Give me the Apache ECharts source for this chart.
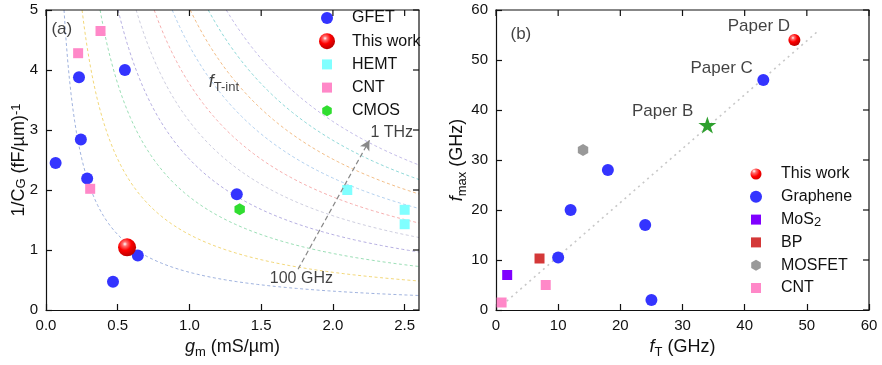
<!DOCTYPE html>
<html><head><meta charset="utf-8">
<script src="https://cdn.jsdelivr.net/npm/echarts@6/dist/echarts.min.js"></script>
<style>html,body{margin:0;padding:0;background:#fff}#wrap{position:relative;width:882px;height:365px}#c{width:882px;height:365px}</style>
</head><body><div id="wrap"><div id="c"></div></div>
<script>
const FONT = "'Liberation Sans', Arial, Helvetica, sans-serif";

// ---------- Panel (a): 1/CG vs gm ----------
const gfet = [[0.067,2.45],[0.23,3.88],[0.243,2.84],[0.287,2.19],[0.55,4.0],[0.467,0.47],[0.64,0.91],[1.33,1.93]];
const thisWorkA = [[0.565,1.045]];
const hemt = [[2.10,2.0],[2.5,1.67],[2.5,1.43]];
const cntA = [[0.224,4.28],[0.38,4.65],[0.308,2.02]];
const cmos = [[1.35,1.68]];
const ftIntGHz = [100,200,300,400,500,600,700,800,900,1000];
const curveColors = ['#8ea4d8','#f0d060','#88d8a8','#a8a0dc','#c4c4d8','#f4a0a0','#a4c8ec','#f0b070','#78d0d0','#b8b0e4'];
const xTicksA = [0,0.5,1.0,1.5,2.0,2.5];
const yTicksA = [0,1,2,3,4,5];

// ---------- Panel (b): fmax vs fT ----------
const thisWorkB = [[48,54]];
const graphene = [[43,46],[18,28],[12,20],[24,17],[10,10.5],[25,2]];
const mos2 = [[1.8,7]];
const bp = [[7,10.3]];
const mosfet = [[14,32]];
const cntB = [[8,5],[0.9,1.5]];
const paperB = [[34,37]];
const trend = [[1,1],[52,56]];
const xTicksB = [0,10,20,30,40,50,60];
const yTicksB = [0,10,20,30,40,50,60];

const hexPath = 'path://M0,-1L0.866,-0.5L0.866,0.5L0,1L-0.866,0.5L-0.866,-0.5Z';
const starPath = 'path://M0,-1L0.2245,-0.309L0.951,-0.309L0.363,0.118L0.588,0.809L0,0.382L-0.588,0.809L-0.363,0.118L-0.951,-0.309L-0.2245,-0.309Z';
const icCircle12 = 'path://M-1.333,-1.333M1.333,1.333M1,0A1,1,0,1,1,-1,0A1,1,0,1,1,1,0Z';
const icCircle11 = 'path://M-1.455,-1.455M1.455,1.455M1,0A1,1,0,1,1,-1,0A1,1,0,1,1,1,0Z';
const icSquare10 = 'path://M-1.6,-1.6M1.6,1.6M-1,-1L1,-1L1,1L-1,1Z';
const icHex11 = 'path://M-1.45,-1.45M1.45,1.45M0,-1L0.866,-0.5L0.866,0.5L0,1L-0.866,0.5L-0.866,-0.5Z';
const sphere = {type:'radial',x:0.38,y:0.32,r:0.7,colorStops:[{offset:0,color:'#ffffff'},{offset:0.18,color:'#ff7070'},{offset:0.5,color:'#ff0000'},{offset:1,color:'#b80000'}]};

// iso-f_T curves: 1/CG = 2*pi*fT/gm (fT in THz, gm in mS/um)
function isoCurve(fGHz){
  const k = 2*Math.PI*fGHz/1000;
  const pts = [];
  const g0 = k/5;
  for(let i=0;i<=200;i++){
    const g = g0 + (2.6-g0)*i/200;
    pts.push([g, k/g]);
  }
  return pts;
}

const rich = {
  i:{fontStyle:'italic',fontSize:18,lineHeight:24,fontFamily:FONT,color:'#111'},
  sub:{fontSize:13,lineHeight:12,verticalAlign:'bottom',fontFamily:FONT,color:'#111'},
  sup:{fontSize:13,lineHeight:12,verticalAlign:'top',fontFamily:FONT,color:'#111'},
  n:{fontSize:18,lineHeight:24,fontFamily:FONT,color:'#111'}
};
const richY = {
  i:{fontStyle:'italic',fontSize:18,lineHeight:18,fontFamily:FONT,color:'#111'},
  sub:{fontSize:13,lineHeight:10,verticalAlign:'bottom',fontFamily:FONT,color:'#111'},
  sup:{fontSize:13,lineHeight:10,verticalAlign:'top',fontFamily:FONT,color:'#111'},
  n:{fontSize:18,lineHeight:18,fontFamily:FONT,color:'#111'}
};

function mkAxis(base){
  return Object.assign({
    show:true,
    axisLine:{show:true,onZero:false,lineStyle:{color:'#111',width:1.2}},
    axisTick:{show:true,inside:true,length:6,lineStyle:{color:'#111',width:1.2}},
    splitLine:{show:false},
    nameMoveOverlap:false,
    axisLabel:{fontFamily:FONT,fontSize:15,color:'#111',margin:8},
  }, base);
}

const xAxes = [
  mkAxis({type:'value',gridIndex:0,min:0,max:2.6,interval:0.5,position:'bottom',
    axisLabel:{fontFamily:FONT,fontSize:15,color:'#111',margin:8,showMaxLabel:false,formatter:v=>Math.abs(v-2.6)<1e-6?'':v.toFixed(1)},
    name:'{i|g}{sub|m}{n| (mS/µm)}',nameLocation:'middle',nameGap:25,nameTextStyle:{rich:rich,fontSize:18,lineHeight:24}}),
  mkAxis({type:'value',gridIndex:1,min:0,max:60,interval:10,position:'bottom',
    name:'{i|f}{sub|T}{n| (GHz)}',nameLocation:'middle',nameGap:25,nameTextStyle:{rich:rich,fontSize:18,lineHeight:24}})
];
const yAxes = [
  mkAxis({type:'value',gridIndex:0,min:0,max:5,interval:1,position:'left',
    name:'{n|1/C}{sub|G}{n| (fF/µm)}{sup|-1}',nameLocation:'middle',nameGap:18,nameRotate:90,nameTextStyle:{rich:richY,fontSize:18,lineHeight:18}}),
  mkAxis({type:'value',gridIndex:1,min:0,max:60,interval:10,position:'left',
    name:'{i|f}{sub|max}{n| (GHz)}',nameLocation:'middle',nameGap:27,nameRotate:90,nameTextStyle:{rich:rich,fontSize:18,lineHeight:24}})
];

const series = [];
ftIntGHz.forEach((f,i)=>{
  series.push({type:'line',name:'ft'+f,xAxisIndex:0,yAxisIndex:0,data:isoCurve(f),showSymbol:false,symbol:'none',
    silent:true,clip:true,z:1,lineStyle:{color:curveColors[i],width:1,type:[3,2.5],opacity:0.85}});
});
series.push({type:'line',name:'arrow',xAxisIndex:0,yAxisIndex:0,data:[],silent:true,
  markLine:{silent:true,animation:false,symbol:['none','arrow'],symbolSize:[8,10],label:{show:false},
    lineStyle:{color:'#888',type:[5,3],width:1.2},
    data:[[{coord:[1.757,0.68]},{coord:[2.255,2.83]}]]}});
series.push({type:'scatter',name:'GFET',xAxisIndex:0,yAxisIndex:0,data:gfet,symbol:'circle',symbolSize:12,itemStyle:{color:'#3434ff',opacity:1},z:3});
series.push({type:'scatter',name:'HEMT',xAxisIndex:0,yAxisIndex:0,data:hemt,symbol:'rect',symbolSize:10,itemStyle:{color:'#80ffff',opacity:1},z:3});
series.push({type:'scatter',name:'CNT',xAxisIndex:0,yAxisIndex:0,data:cntA,symbol:'rect',symbolSize:10,itemStyle:{color:'#ff88c8',opacity:1},z:3});
series.push({type:'scatter',name:'CMOS',xAxisIndex:0,yAxisIndex:0,data:cmos,symbol:hexPath,symbolKeepAspect:true,symbolSize:12,itemStyle:{color:'#30dd30',opacity:1},z:3});
series.push({type:'scatter',name:'This work',xAxisIndex:0,yAxisIndex:0,data:thisWorkA,symbol:'circle',symbolSize:18,itemStyle:{color:sphere,opacity:1},z:4});
series.push({type:'scatter',name:'annA',xAxisIndex:0,yAxisIndex:0,symbolSize:0,silent:true,z:5,
  label:{show:true,position:'inside',fontFamily:FONT,fontSize:16,color:'#111',formatter:'{b}',rich:rich},
  data:[
    {value:[0.11,4.67],name:'(a)',label:{fontSize:17}},
    {value:[1.24,3.8],name:'fT',label:{formatter:'{i|f}{sub|T-int}'}},
    {value:[1.78,0.53],name:'100 GHz'},
    {value:[2.41,2.95],name:'1 THz'}
  ]});

series.push({type:'line',name:'trend',xAxisIndex:1,yAxisIndex:1,data:trend,symbol:'none',silent:true,z:1,
  lineStyle:{color:'#c8c8c8',width:1.6,type:[2,4]}});
series.push({type:'scatter',name:'Graphene',xAxisIndex:1,yAxisIndex:1,data:graphene,symbol:'circle',symbolSize:12,itemStyle:{color:'#3434ff',opacity:1},z:3});
series.push({type:'scatter',name:'MoS2',xAxisIndex:1,yAxisIndex:1,data:mos2,symbol:'rect',symbolSize:10,itemStyle:{color:'#8000ff',opacity:1},z:3});
series.push({type:'scatter',name:'BP',xAxisIndex:1,yAxisIndex:1,data:bp,symbol:'rect',symbolSize:10,itemStyle:{color:'#d43838',opacity:1},z:3});
series.push({type:'scatter',name:'MOSFET',xAxisIndex:1,yAxisIndex:1,data:mosfet,symbol:hexPath,symbolKeepAspect:true,symbolSize:12,itemStyle:{color:'#999999',opacity:1},z:3});
series.push({type:'scatter',name:'CNT',xAxisIndex:1,yAxisIndex:1,data:cntB,symbol:'rect',symbolSize:10,itemStyle:{color:'#ff88c8',opacity:1},z:3});
series.push({type:'scatter',name:'PaperB',xAxisIndex:1,yAxisIndex:1,data:paperB,symbol:starPath,symbolKeepAspect:true,symbolSize:18,itemStyle:{color:'#2ea02e',opacity:1},z:3});
series.push({type:'scatter',name:'This work',xAxisIndex:1,yAxisIndex:1,data:thisWorkB,symbol:'circle',symbolSize:12,itemStyle:{color:sphere,opacity:1},z:4});
series.push({type:'scatter',name:'annB',xAxisIndex:1,yAxisIndex:1,symbolSize:0,silent:true,z:5,
  label:{show:true,position:'inside',fontFamily:FONT,fontSize:17,color:'#111',formatter:'{b}'},
  data:[
    {value:[4.0,55.2],name:'(b)',label:{fontSize:17}},
    {value:[42.3,56.8],name:'Paper D'},
    {value:[36.3,48.4],name:'Paper C'},
    {value:[26.8,39.7],name:'Paper B'}
  ]});

const legTxt = {fontFamily:FONT,fontSize:16,color:'#111',lineHeight:18,padding:[0,0,0,12],
  rich:{sub:{fontSize:13,lineHeight:12,verticalAlign:'bottom',fontFamily:FONT,color:'#111'}}};

const option = {
  animation:false,
  backgroundColor:'#fff',
  grid:[
    {left:46,top:10,width:373,height:300,outerBoundsMode:'none',containLabel:false},
    {left:496,top:10,width:373,height:300,outerBoundsMode:'none',containLabel:false}
  ],
  xAxis:xAxes,
  yAxis:yAxes,
  legend:[
    {orient:'vertical',left:314,top:4,itemWidth:16,itemHeight:16,itemGap:5.2,selectedMode:false,
     textStyle:legTxt,
     data:[
       {name:'GFET',icon:icCircle12},
       {name:'This work',icon:'circle'},
       {name:'HEMT',icon:icSquare10,itemStyle:{color:'#80ffff'}},
       {name:'CNT',icon:icSquare10},
       {name:'CMOS',icon:icHex11}
     ]},
    {orient:'vertical',left:743,top:160,itemWidth:16,itemHeight:16,itemGap:4.8,selectedMode:false,
     textStyle:legTxt,
     formatter:n=>n==='MoS2'?'MoS{sub|2}':n,
     data:[
       {name:'This work',icon:icCircle11},
       {name:'Graphene',icon:icCircle12},
       {name:'MoS2',icon:icSquare10},
       {name:'BP',icon:icSquare10},
       {name:'MOSFET',icon:icHex11},
       {name:'CNT',icon:icSquare10}
     ]}
  ],
  series:series
};

const chart = echarts.init(document.getElementById('c'),null,{renderer:'canvas'});
chart.setOption(option);

// Top and right frame edges with inward ticks, positioned through the chart's own axis scales.
(function(){
  const NS = 'http://www.w3.org/2000/svg';
  const svg = document.createElementNS(NS,'svg');
  svg.setAttribute('width','882'); svg.setAttribute('height','365');
  svg.setAttribute('style','position:absolute;left:0;top:0;z-index:10;pointer-events:none');
  function ln(x1,y1,x2,y2){
    const l = document.createElementNS(NS,'line');
    l.setAttribute('x1',x1); l.setAttribute('y1',y1); l.setAttribute('x2',x2); l.setAttribute('y2',y2);
    l.setAttribute('stroke','#111'); l.setAttribute('stroke-width','1.2');
    svg.appendChild(l);
  }
  function frame(idx, xMax, yMax, xt, yt){
    const f = {xAxisIndex:idx,yAxisIndex:idx};
    const tl = chart.convertToPixel(f,[0,yMax]);
    const br = chart.convertToPixel(f,[xMax,0]);
    ln(tl[0]-0.6,tl[1],br[0]+0.6,tl[1]);
    ln(br[0],tl[1],br[0],br[1]+0.6);
    xt.forEach(v=>{ const p = chart.convertToPixel(f,[v,yMax]); ln(p[0],tl[1],p[0],tl[1]+6); });
    yt.forEach(v=>{ const p = chart.convertToPixel(f,[xMax,v]); ln(br[0],p[1],br[0]-6,p[1]); });
  }
  frame(0,2.6,5,xTicksA,yTicksA);
  frame(1,60,60,xTicksB,yTicksB);
  document.getElementById('wrap').appendChild(svg);
})();
</script></body></html>
